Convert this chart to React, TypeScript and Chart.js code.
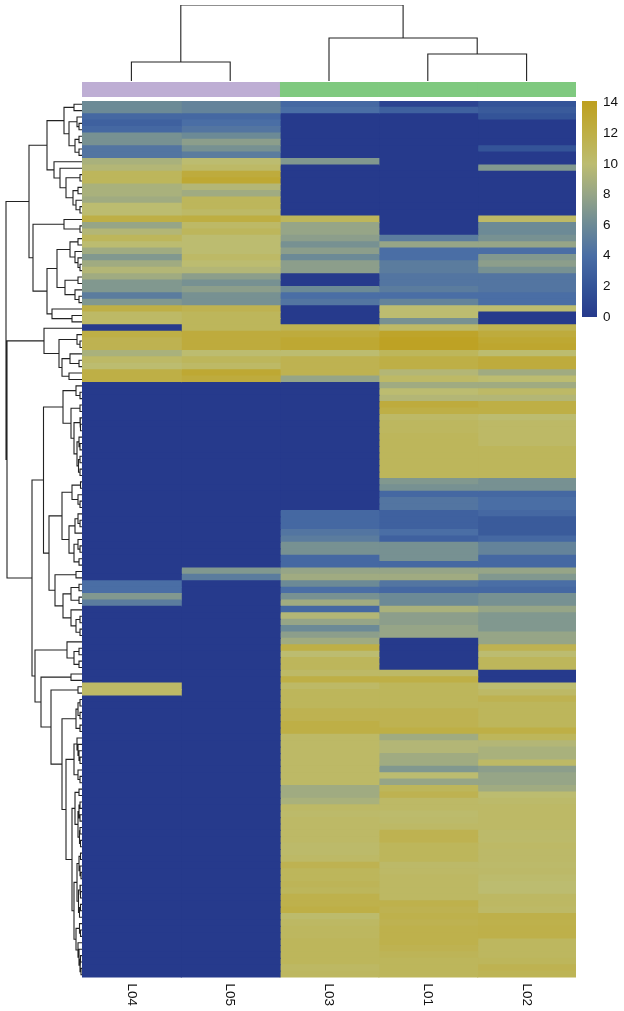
import React, { useEffect, useRef } from "react";
import { Chart, registerables } from "chart.js";
Chart.register(...registerables);

const sampleNames = ["L04", "L05", "L03", "L01", "L02"];
const annotationColors = ["#BEAED4", "#BEAED4", "#7FC97F", "#7FC97F", "#7FC97F"];

const L04 = [
  6,6,3.5,3,3.5,6.5,6.5,4.5,4.5,9,
  9.5,11,11,9,9,8.5,10,10,12,8,
  9.5,11,10,8.5,7,8.5,9.5,8.5,7,7,
  5,7,12,10.5,10.5,0,12,11.5,11.5,9,
  10.5,10,12,12,0,0,0,0,0,0,
  0,0,0,0,0,0,0,0,0,0,
  0,0,0,0,0,0,0,0,0,0,
  0,0,0,0,0,4,4,7,5,0,
  0,0,0,0,0,0,0,0,0,0,
  0,10.5,10.5,0,0,0,0,0,0,0,
  0,0,0,0,0,0,0,0,0,0,
  0,0,0,0,0,0,0,0,0,0,
  0,0,0,0,0,0,0,0,0,0,
  0,0,0,0,0,0,0];
const L05 = [
  5.5,5.5,3.5,4,4.5,6,7.5,6.5,5,10,
  10.5,12.5,13,9.5,8.5,11,11,10.5,12.2,10.5,
  11,10,10,10,10.5,10,9.5,7.5,6.5,7.5,
  6.5,6.5,11.5,11,11,11,12.5,12.5,12.5,10,
  11,10.5,13,12.5,0,0,0,0,0,0,
  0,0,0,0,0,0,0,0,0,0,
  0,0,0,0,0,0,0,0,0,0,
  0,0,0,7,5,0,0,0,0,0,
  0,0,0,0,0,0,0,0,0,0,
  0,0,0,0,0,0,0,0,0,0,
  0,0,0,0,0,0,0,0,0,0,
  0,0,0,0,0,0,0,0,0,0,
  0,0,0,0,0,0,0,0,0,0,
  0,0,0,0,0,0,0];
const L03 = [
  3.5,4,0,0,0,0,0,0,0,7,
  0,0,0,0,0,0,0,0,11,8,
  8,7.5,6.5,7.5,6,7.5,7.5,0,0,6,
  4,4.5,0,0,0,11.5,12.5,13,13,10,
  11.5,11.5,11.5,8,0,0,0,0,0,0,
  0,0,0,0,0,0,0,0,0,0,
  0,0,0,0,3.5,3.5,3.5,4.5,5,6.5,
  6.5,3.5,3.5,8,8.5,6,4,6.5,8.5,3.5,
  9.5,8,6,7.5,8.5,12,10,11,11,10.5,
  12,10.5,11,11,11,11.5,11.5,12,12,10.5,
  10.5,10.5,10.5,10.5,10.5,10.5,10.5,8.5,8.5,9,
  10.5,10.3,10.5,10.5,10.5,10.5,10.3,10.3,10.5,11.5,
  11,11,11.2,11,11.7,11.7,12,10.2,10.6,10.8,
  10.8,11,11,11,11,10.6,10.8];
const L01 = [
  0.8,3,0,0,0,0,0,0,0,0,
  0,0,0,0,0,0,0,0,0,0,
  0,5,8,4,4,5,5,4.5,4.5,5,
  4,5.5,10,10,6.5,10.5,13.5,13.8,13.8,11,
  12,12,9.5,10.5,8.5,10,9.5,12.5,12,10.5,
  10.8,10.8,11,11,11,11,11,11,11,7,
  6.5,3.5,4.5,4.5,3,3,3,4,3,6.5,
  6.5,6.5,3.5,8,8.5,4.5,3.5,6,6,9,
  7.5,7.5,8,8,0,0,0,0,0,10.5,
  12,11,11,11,11,11.5,11.5,11.5,12,8.5,
  9.5,9.5,8.5,8.5,7,10,8,11,11.5,10.5,
  10.5,10.2,10.3,10.5,11.5,11.5,11,11,11,10.4,
  10.5,10.6,10.6,10.6,10.6,11.7,11.5,11.7,11.5,11.7,
  11.7,11.7,11.5,11.2,11,11,11];
const L02 = [
  2,2.5,2,0,0,0,0,2,0,0,
  7,0,0,0,0,0,0,0,10.5,6,
  6,6.5,8,4,7,7.5,6.5,4.5,4.5,4.5,
  4,4,10,0,0,11.5,12.5,13,13.2,10,
  12.5,12.5,8.5,10,8.5,10.5,9.5,12,12,10,
  10.5,10.5,10.5,10.5,11,11,11,11,11,6.5,
  6.5,3.5,4,4,3.5,2.5,2.5,2.5,3.5,5.5,
  5.5,3.5,3.5,8,7,4,3.5,6.5,6.5,8,
  7,7,7,8,8,11.5,10,11,11,0,
  0,10,10.5,11.5,11,11,11,11,12,11,
  9.5,9,9,10.5,7.5,8,8,8.5,10,10.3,
  10.5,10.5,10.5,10.5,10.3,10.3,10.5,10.4,10.4,10.3,
  10.4,10.2,10,10,10.6,10.6,10.5,11.8,11.7,11.8,
  11.8,10.8,10.8,10.8,11,11.5,11.3];
const columns = [L04, L05, L03, L01, L02];

const colorStops: [number, number[]][] = [
  [0, [38, 58, 140]], [2, [52, 84, 152]], [4, [74, 110, 165]], [6, [108, 138, 150]],
  [8, [150, 165, 135]], [10, [188, 188, 112]], [12, [190, 175, 70]], [14, [190, 160, 32]],
];
const colorbarTicks = [0, 2, 4, 6, 8, 10, 12, 14];
const colorbarMax = 14.1;

// dendrogram nodes: [height, child, child]; 0 is a leaf
type Node = 0 | [number, Node, Node];
const topTree: Node = [76, [19, 0, 0], [43, 0, [27, 0, 0]]];
const a1: Node = [18, [8, 0, 0], [13, [5, 0, [3, 0, 0]], [7, [3, 0, 0], [3, 0, 0]]]];
const a2: Node = [28, 0, [22, 0, [16, [2, 0, 0], [9, [4, 0, 0], [6, 0, [2, 0, 0]]]]]];
const b1: Node = [18, 0, [2, 0, 0]];
const b2a: Node = [25, [12, [4, 0, 0], [7, 0, [4, 0, [2, 0, 0]]]], [17, [4, 0, 0], [7, 0, [3, 0, 0]]]];
const b2b: Node = [30, 0, [10, 0, 0]];
const cluster1: Node = [53, [35, a1, a2], [49, b1, [35, b2a, b2b]]];
const cluster2: Node = [38, 0, [23, [5, 0, [2, 0, 0]], [20, [12, 0, [3, 0, 0]], [13, 0, 0]]]];
const c1: Node = [19, [6, 0, [2, 0, 0]], [11, [2, 0, 0], [8, [2, 0, [1.5, 0, 0]], [5, [3, 0, [2, 0, 0]], [3.5, [2, 0, 0], [2, 0, 0]]]]]];
const e: Node = [20, [10, [1.5, 0, 0], [4, 0, [2, 0, 0]]], [13, [7, [4, 0, [2, 0, 0]], 0], [8, [4, 0, [2, 0, 0]], [3, 0, 0]]]];
const f: Node = [27, [6, 0, 0], [19, [11, [3, 0, 0], [3, 0, 0]], [11, 0, [6, [2, 0, 0], [2, 0, 0]]]]];
const g: Node = [15, 0, [8, [3, 0, 0], [3, 0, 0]]];
const k: Node = [6, [4, [2, 0, 0], [2, 0, 0]], [2, 0, 0]];
const n: Node = [8, [5, 0, [4, 0, [3, 0, [2, 0, 0]]]], [4, 0, [2, 0, 0]]];
const r: Node = [7, [3, 0, 0], [4, [3, [2, 0, 0], [2, 0, 0]], [2.5, [2, 0, 0], [1.5, 0, 0]]]];
const u: Node = [5, [3, [1.5, 0, 0], [2, 0, [1, 0, 0]]], [3.5, [2, 0, [1.5, 0, 0]], [2.5, [1.5, 0, 0], 0]]];
const v: Node = [6, [2.5, 0, [1.5, 0, 0]], [4, 0, [3, 0, [2, [1.5, 0, 0], [1, 0, 0]]]]];
const lower: Node = [47, g, [41, [11, 0, 0], [31, [4, 0, 0], [20, k, [16, n, [10, r, [8, u, v]]]]]]];
const cluster3: Node = [50, [38.5, c1, [33, e, f]], lower];
const rowTree: Node = [76, cluster1, [75, cluster2, cluster3]];

const rowCount = L04.length;
const rowLabels = L04.map((_, i) => String(i + 1));

function colorFor(v: number) {
  for (let i = 1; i < colorStops.length; i++) {
    if (v <= colorStops[i][0]) {
      const [a, ca] = colorStops[i - 1];
      const [b, cb] = colorStops[i];
      const t = (v - a) / (b - a);
      const c = ca.map((q, j) => Math.round(q + (cb[j] - q) * t));
      return `rgb(${c[0]},${c[1]},${c[2]})`;
    }
  }
  return "rgb(190,160,32)";
}

// walks a tree; returns polyline points (null separated) as [leaf position, height]
function layout(tree: Node) {
  const segs: ({ p: number; h: number } | null)[] = [];
  let next = 0;
  const walk = (nd: Node): { p: number; h: number } => {
    if (nd === 0) return { p: next++ + 0.5, h: 0 };
    const a = walk(nd[1]);
    const b = walk(nd[2]);
    segs.push({ p: a.p, h: a.h }, { p: a.p, h: nd[0] }, { p: b.p, h: nd[0] }, { p: b.p, h: b.h }, null);
    return { p: (a.p + b.p) / 2, h: nd[0] };
  };
  walk(tree);
  return segs;
}

const FONT = "'Liberation Sans', Arial, sans-serif";
const TEXT = "#111111";
const hidden = { display: false };
const base = { responsive: false, maintainAspectRatio: false, animation: false as const, plugins: { legend: hidden, tooltip: { enabled: false } } };

function useChart(build: (c: HTMLCanvasElement) => Chart) {
  const ref = useRef<HTMLCanvasElement>(null);
  useEffect(() => {
    const chart = build(ref.current!);
    return () => chart.destroy();
  }, []);
  return ref;
}

const sampleLabelPlugin = {
  id: "sampleLabels",
  afterDraw(chart: any) {
    const { ctx, scales, chartArea } = chart;
    ctx.save();
    ctx.font = `13.5px ${FONT}`;
    ctx.fillStyle = TEXT;
    ctx.textBaseline = "middle";
    ctx.textAlign = "left";
    sampleNames.forEach((name, i) => {
      ctx.save();
      ctx.translate(scales.x.getPixelForValue(i + 0.5), chartArea.bottom + 6);
      ctx.rotate(Math.PI / 2);
      ctx.fillText(name, 0, 0);
      ctx.restore();
    });
    ctx.restore();
  },
};

function Heatmap() {
  const ref = useChart((c) => new Chart(c, {
    type: "bar",
    data: {
      labels: rowLabels,
      datasets: columns.map((col, i) => ({
        data: col.map(() => [i, i + 1.01]),
        backgroundColor: col.map(colorFor),
        borderWidth: 0,
        grouped: false,
        categoryPercentage: 1,
        barPercentage: 1.18,
      })) as any,
    },
    options: {
      ...base,
      indexAxis: "y",
      layout: { padding: { left: 0, right: 0, top: 0, bottom: 33.5 } },
      scales: {
        x: { type: "linear", min: 0, max: 5, display: false },
        y: { type: "category", display: false },
      },
    } as any,
    plugins: [sampleLabelPlugin],
  }));
  return <canvas ref={ref} width={494} height={910} style={{ position: "absolute", left: 82, top: 101 }} />;
}

function AnnotationBar() {
  const ref = useChart((c) => new Chart(c, {
    type: "bar",
    data: {
      labels: ["group"],
      datasets: annotationColors.map((color, i) => ({
        data: [[i, i + 1]],
        backgroundColor: color,
        borderWidth: 0,
        grouped: false,
        categoryPercentage: 1,
        barPercentage: 1,
      })) as any,
    },
    options: {
      ...base,
      indexAxis: "y",
      scales: { x: { type: "linear", min: 0, max: 5, display: false }, y: { display: false } },
    } as any,
  }));
  return <canvas ref={ref} width={494} height={15} style={{ position: "absolute", left: 82, top: 82 }} />;
}

function lineDataset(points: any[]) {
  return {
    data: points,
    showLine: true,
    spanGaps: false,
    pointRadius: 0,
    borderColor: "#222222",
    borderWidth: 1.1,
    tension: 0,
    clip: false,
  };
}

function TopDendrogram() {
  const ref = useChart((c) => new Chart(c, {
    type: "scatter",
    data: { datasets: [lineDataset(layout(topTree).map((s) => (s ? { x: s.p, y: s.h } : { x: null, y: null })))] as any },
    options: {
      ...base,
      scales: { x: { type: "linear", min: 0, max: 5, display: false }, y: { type: "linear", min: 0, max: 76, display: false } },
    } as any,
  }));
  return <canvas ref={ref} width={494} height={76} style={{ position: "absolute", left: 82, top: 5 }} />;
}

function LeftDendrogram() {
  const ref = useChart((c) => new Chart(c, {
    type: "scatter",
    data: { datasets: [lineDataset(layout(rowTree).map((s) => (s ? { x: s.h, y: s.p } : { x: null, y: null })))] as any },
    options: {
      ...base,
      scales: {
        x: { type: "linear", min: 0, max: 82, reverse: true, display: false },
        y: { type: "linear", min: 0, max: rowCount, reverse: true, display: false },
      },
    } as any,
  }));
  return <canvas ref={ref} width={82} height={877} style={{ position: "absolute", left: 0, top: 101 }} />;
}

function ColorBar() {
  const ref = useChart((c) => new Chart(c, {
    type: "bar",
    data: {
      labels: ["level"],
      datasets: [{
        data: [[0, colorbarMax]],
        backgroundColor: (ctx: any) => {
          const { scales, ctx: g, chartArea } = ctx.chart;
          const y0 = chartArea ? scales.y.getPixelForValue(0) : NaN;
          const y1 = chartArea ? scales.y.getPixelForValue(14) : NaN;
          if (!Number.isFinite(y0) || !Number.isFinite(y1)) return "rgb(108,138,150)";
          const grad = g.createLinearGradient(0, y0, 0, y1);
          colorStops.forEach(([v, col]) => grad.addColorStop(v / 14, `rgb(${col[0]},${col[1]},${col[2]})`));
          return grad;
        },
        borderWidth: 0,
        categoryPercentage: 1,
        barPercentage: 1,
      }] as any,
    },
    options: {
      ...base,
      scales: {
        x: { display: false },
        y: {
          type: "linear",
          position: "right",
          min: 0,
          max: colorbarMax,
          afterBuildTicks: (s: any) => { s.ticks = colorbarTicks.map((value) => ({ value })); },
          afterFit: (s: any) => { s.width = 27; },
          grid: { display: false, drawTicks: false },
          border: { display: false },
          ticks: { padding: 6, color: TEXT, font: { family: FONT, size: 13.5 } },
        },
      },
    } as any,
  }));
  return <canvas ref={ref} width={42} height={244} style={{ position: "absolute", left: 582, top: 87 }} />;
}

export default function App() {
  return (
    <div style={{ position: "absolute", left: 0, top: 0, width: 624, height: 1011, background: "#fff", overflow: "hidden" }}>
      <TopDendrogram />
      <AnnotationBar />
      <LeftDendrogram />
      <Heatmap />
      <ColorBar />
    </div>
  );
}
